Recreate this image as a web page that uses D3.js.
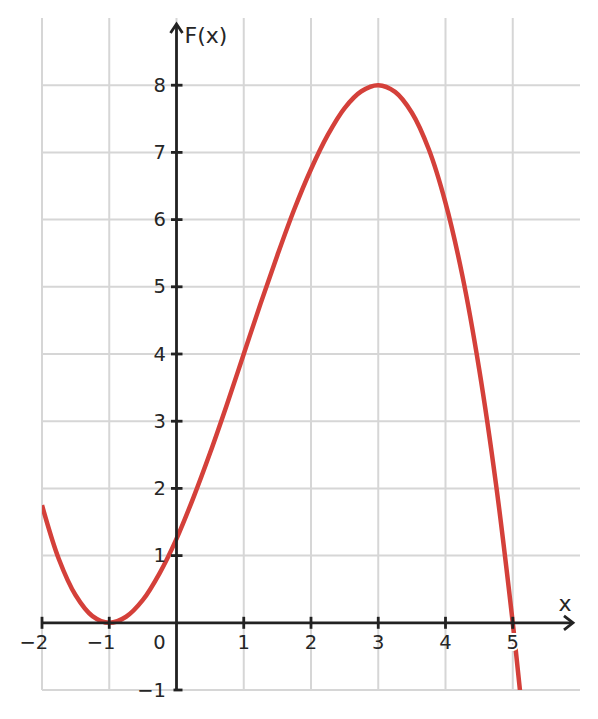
<!DOCTYPE html>
<html>
<head>
<meta charset="utf-8">
<script src="https://cdn.jsdelivr.net/npm/d3@7"></script>
<style>
  body { margin: 0; background: #fff; }
  text { font-family: "DejaVu Sans", sans-serif; fill: #262626; }
</style>
</head>
<body>
<div id="viz"></div>
<script>
const width = 598;
const height = 719;

// values
const xs = [-2, -1.75, -1.5, -1.25, -1, -0.75, -0.5, -0.25, 0, 0.25, 0.5, 0.75, 1, 1.25, 1.5, 1.75,
  2, 2.25, 2.5, 2.75, 3, 3.25, 3.5, 3.75, 4, 4.25, 4.5, 4.75, 5, 5.11];
const fs = [1.75, 0.95, 0.41, 0.1, 0, 0.09, 0.34, 0.74, 1.25, 1.86, 2.53, 3.25, 4, 4.75, 5.47, 6.15,
  6.75, 7.26, 7.66, 7.91, 8, 7.9, 7.59, 7.05, 6.25, 5.17, 3.78, 2.07, 0, -1.03];

const xTicks = [-2, -1, 0, 1, 2, 3, 4, 5];
const yTicks = [-1, 1, 2, 3, 4, 5, 6, 7, 8];

const x = d3.scaleLinear().domain([-2, 6]).range([42, 580]);
const y = d3.scaleLinear().domain([-1, 9]).range([690, 18]);

const fmt = d => d3.format('')(d).replace('-', '\u2212');

const svg = d3.select('#viz').append('svg')
  .attr('width', width)
  .attr('height', height);

// grid
svg.append('g')
  .selectAll('line')
  .data(xTicks)
  .enter()
  .append('line')
  .attr('x1', d => x(d)).attr('x2', d => x(d))
  .attr('y1', y(-1)).attr('y2', y(9))
  .attr('stroke', '#d6d6d6')
  .attr('stroke-width', 2);

svg.append('g')
  .selectAll('line')
  .data(yTicks)
  .enter()
  .append('line')
  .attr('x1', x(-2)).attr('x2', x(6))
  .attr('y1', d => y(d)).attr('y2', d => y(d))
  .attr('stroke', '#d6d6d6')
  .attr('stroke-width', 2);

// curve
const data = xs.map((v, i) => ({ x: v, f: fs[i] }));
const line = d3.line()
  .curve(d3.curveCatmullRom)
  .x(d => x(d.x))
  .y(d => y(d.f));

svg.append('defs').append('clipPath').attr('id', 'clip')
  .append('rect')
  .attr('x', x(-2)).attr('y', y(9))
  .attr('width', x(6) - x(-2)).attr('height', y(-1) - y(9));

svg.append('path')
  .attr('clip-path', 'url(#clip)')
  .attr('fill', 'none')
  .attr('stroke', '#d4403a')
  .attr('stroke-width', 4.5)
  .attr('stroke-linecap', 'butt')
  .attr('d', line(data));

// axes
const axisColor = '#222';
svg.append('line')
  .attr('x1', x(-2)).attr('x2', 572)
  .attr('y1', y(0)).attr('y2', y(0))
  .attr('stroke', axisColor).attr('stroke-width', 2.8);
svg.append('path')
  .attr('d', `M564,${y(0) - 7}L573,${y(0)}L564,${y(0) + 7}`)
  .attr('fill', 'none').attr('stroke', axisColor).attr('stroke-width', 2.8)
  .attr('stroke-linejoin', 'miter');

svg.append('line')
  .attr('x1', x(0)).attr('x2', x(0))
  .attr('y1', y(-1)).attr('y2', 24)
  .attr('stroke', axisColor).attr('stroke-width', 2.8);
svg.append('path')
  .attr('d', `M${x(0) - 6},33L${x(0)},24L${x(0) + 6},33`)
  .attr('fill', 'none').attr('stroke', axisColor).attr('stroke-width', 2.8)
  .attr('stroke-linejoin', 'miter');

// x ticks
svg.append('g')
  .selectAll('line')
  .data(xTicks.filter(d => d !== 0))
  .enter()
  .append('line')
  .attr('x1', d => x(d)).attr('x2', d => x(d))
  .attr('y1', y(0) - 6).attr('y2', y(0) + 6)
  .attr('stroke', axisColor).attr('stroke-width', 2.8);

// digits centred on the tick, minus sign hangs to the left
svg.append('g')
  .selectAll('text')
  .data(xTicks)
  .enter()
  .append('text')
  .attr('x', d => d === 0 ? x(0) - 17 : d < 0 ? x(d) + 6.2 : x(d))
  .attr('y', y(0) + 26)
  .attr('text-anchor', d => d < 0 ? 'end' : 'middle')
  .attr('font-size', 19.5)
  .attr('stroke', d => d === 5 ? '#fff' : 'none')
  .attr('stroke-width', 4)
  .attr('paint-order', 'stroke')
  .text(fmt);

// y ticks
svg.append('g')
  .selectAll('line')
  .data(yTicks)
  .enter()
  .append('line')
  .attr('x1', d => d === -1 ? x(0) - 3 : x(0) - 5.5)
  .attr('x2', x(0) + 6)
  .attr('y1', d => y(d)).attr('y2', d => y(d))
  .attr('stroke', axisColor).attr('stroke-width', 2.8);

svg.append('g')
  .selectAll('text')
  .data(yTicks)
  .enter()
  .append('text')
  .attr('x', x(0) - 10.5)
  .attr('y', d => y(d) + 6.5)
  .attr('text-anchor', 'end')
  .attr('font-size', 19.5)
  .text(fmt);

// axis labels
svg.append('text')
  .attr('x', x(0) + 8).attr('y', 43)
  .attr('font-size', 22)
  .text('F(x)');

svg.append('text')
  .attr('x', 565).attr('y', 611)
  .attr('text-anchor', 'middle')
  .attr('font-size', 22)
  .text('x');
</script>
</body>
</html>
